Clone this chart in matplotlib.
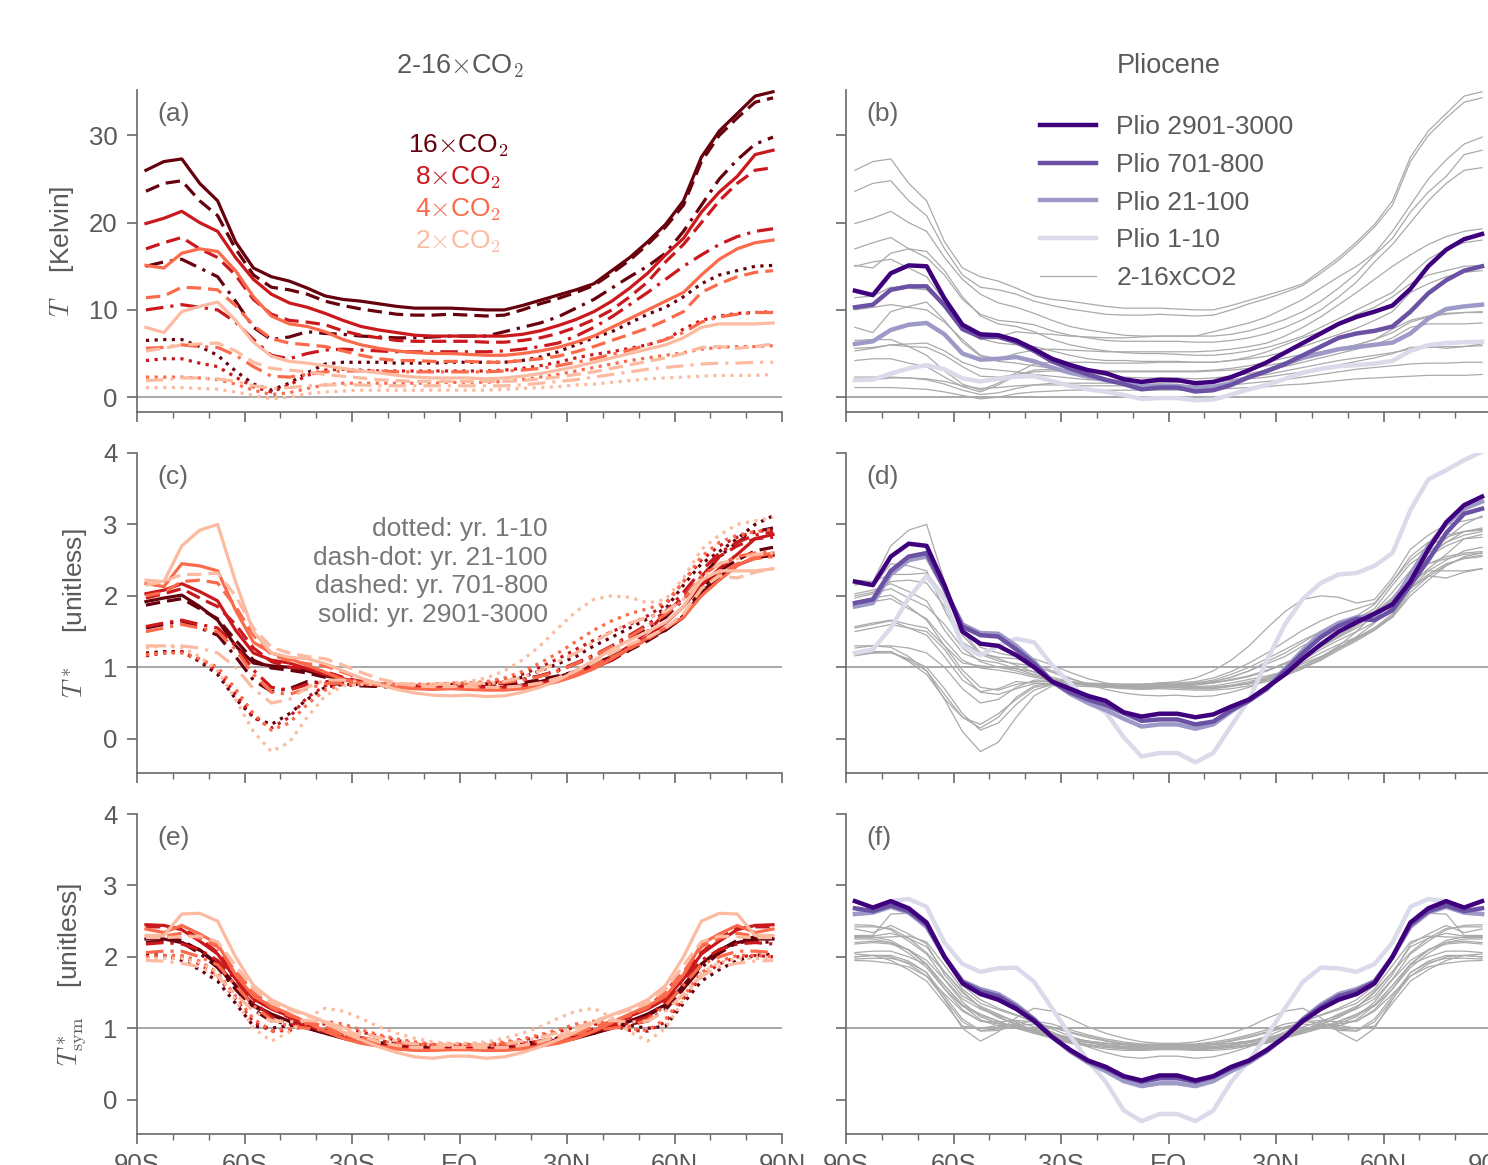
import matplotlib
matplotlib.use('Agg')
import matplotlib.pyplot as plt
from matplotlib.lines import Line2D

plt.rcParams['font.family'] = ['Liberation Sans', 'DejaVu Sans']
plt.rcParams['mathtext.fontset'] = 'cm'

# latitude grid (deg)
lat = [-87.5, -82.5, -77.5, -72.5, -67.5, -62.5, -57.5, -52.5, -47.5, -42.5, -37.5, -32.5,
       -27.5, -22.5, -17.5, -12.5, -7.5, -2.5, 2.5, 7.5, 12.5, 17.5, 22.5, 27.5,
       32.5, 37.5, 42.5, 47.5, 52.5, 57.5, 62.5, 67.5, 72.5, 77.5, 82.5, 87.5]

# ---- panel (a): warming T [K] for the CO2 runs
t16_solid = [26.0, 27.0, 27.3, 24.5, 22.5, 17.8, 14.8, 13.8, 13.3, 12.5, 11.6, 11.2, 11.0, 10.7, 10.4, 10.2, 10.2, 10.2, 10.1, 10.0, 10.0, 10.5, 11.1, 11.7, 12.3, 13.0, 14.5, 16.0, 17.8, 19.8, 22.5, 27.5, 30.5, 32.5, 34.5, 35.0]
t16_dashed = [23.6, 24.5, 24.8, 22.5, 20.8, 17.0, 14.0, 12.6, 12.3, 11.8, 11.0, 10.5, 10.1, 9.8, 9.5, 9.4, 9.4, 9.5, 9.4, 9.3, 9.4, 10.0, 10.7, 11.3, 12.0, 12.8, 14.2, 15.7, 17.5, 19.5, 22.0, 27.0, 30.0, 32.0, 33.8, 34.3]
t16_dashdot = [15.0, 15.5, 15.8, 14.8, 13.8, 11.0, 8.0, 6.6, 6.9, 7.5, 7.3, 7.2, 7.0, 6.9, 6.8, 6.8, 6.9, 7.0, 7.0, 7.0, 7.5, 8.0, 8.5, 9.2, 10.2, 11.2, 12.5, 13.8, 15.0, 16.5, 19.0, 22.0, 25.0, 27.2, 29.0, 29.8]
t16_dotted = [6.5, 6.6, 6.6, 5.8, 4.8, 3.0, 1.5, 0.8, 1.6, 2.8, 3.8, 4.0, 4.0, 4.0, 3.9, 3.9, 3.9, 4.0, 4.0, 4.0, 4.0, 4.2, 4.6, 5.2, 6.0, 6.8, 7.5, 8.5, 9.5, 10.3, 11.5, 13.0, 14.0, 14.5, 15.0, 15.1]
t8_solid = [19.9, 20.5, 21.3, 20.0, 19.0, 16.0, 13.5, 11.8, 10.8, 10.3, 9.6, 8.8, 8.1, 7.7, 7.4, 7.1, 7.0, 7.0, 7.0, 7.0, 7.0, 7.2, 7.6, 8.2, 8.9, 9.8, 11.0, 12.5, 14.2, 16.3, 18.2, 21.2, 23.5, 25.3, 27.8, 28.3]
t8_dashed = [17.0, 17.7, 18.3, 17.0, 16.0, 14.0, 11.2, 9.5, 8.8, 8.6, 8.3, 7.6, 7.1, 6.8, 6.5, 6.4, 6.4, 6.4, 6.4, 6.3, 6.3, 6.5, 6.8, 7.3, 8.0, 8.9, 10.0, 11.5, 13.2, 15.5, 17.5, 20.0, 22.5, 24.5, 26.0, 26.3]
t8_dashdot = [10.0, 10.3, 10.6, 10.3, 10.0, 8.6, 6.6, 4.8, 4.4, 5.0, 5.4, 5.5, 5.4, 5.3, 5.2, 5.2, 5.2, 5.2, 5.2, 5.2, 5.3, 5.5, 5.8, 6.2, 7.0, 8.0, 9.2, 10.6, 12.0, 13.5, 15.0, 16.3, 17.5, 18.4, 19.0, 19.3]
t8_dotted = [4.2, 4.4, 4.4, 3.9, 3.5, 2.3, 1.2, 0.6, 1.4, 2.5, 3.1, 3.2, 3.1, 3.0, 3.0, 3.0, 3.0, 3.0, 3.0, 3.0, 3.1, 3.3, 3.6, 4.0, 4.5, 4.9, 5.2, 5.6, 6.0, 6.6, 7.8, 8.8, 9.3, 9.6, 9.7, 9.8]
t4_solid = [15.1, 14.8, 16.5, 17.0, 16.7, 14.5, 11.5, 9.3, 8.4, 8.1, 7.5, 6.6, 6.0, 5.6, 5.3, 5.1, 5.0, 5.0, 4.9, 4.8, 4.8, 5.0, 5.3, 5.7, 6.3, 7.0, 8.0, 9.0, 10.0, 11.0, 12.0, 14.0, 15.8, 17.0, 17.7, 18.0]
t4_dashed = [11.4, 11.6, 12.6, 12.5, 12.3, 10.5, 8.2, 6.7, 6.2, 6.0, 5.8, 5.3, 4.8, 4.4, 4.2, 4.2, 4.1, 4.1, 4.1, 4.0, 4.0, 4.2, 4.4, 4.7, 5.2, 5.8, 6.5, 7.2, 7.9, 8.8, 9.8, 12.0, 13.0, 13.8, 14.3, 14.5]
t4_dashdot = [5.6, 5.7, 6.0, 5.8, 5.7, 4.8, 3.5, 2.4, 2.3, 2.6, 2.9, 3.0, 3.0, 3.0, 2.9, 2.9, 2.9, 2.9, 2.9, 2.9, 3.0, 3.1, 3.3, 3.6, 4.0, 4.4, 4.9, 5.4, 6.0, 6.6, 7.4, 8.6, 9.2, 9.5, 9.7, 9.7]
t4_dotted = [2.3, 2.3, 2.3, 2.2, 2.0, 1.5, 0.8, 0.3, 0.5, 1.0, 1.4, 1.6, 1.6, 1.6, 1.6, 1.6, 1.6, 1.7, 1.7, 1.7, 1.8, 2.0, 2.3, 2.6, 3.0, 3.4, 3.8, 4.2, 4.5, 4.8, 5.1, 5.5, 5.7, 5.8, 5.8, 5.9]
t2_solid = [8.0, 7.4, 9.8, 10.4, 10.9, 8.8, 6.3, 4.7, 4.1, 3.9, 3.6, 3.3, 3.0, 2.8, 2.5, 2.3, 2.2, 2.2, 2.2, 2.1, 2.2, 2.4, 2.7, 3.1, 3.5, 4.0, 4.5, 5.0, 5.5, 6.0, 6.8, 8.0, 8.4, 8.4, 8.4, 8.5]
t2_dashed = [5.3, 5.6, 6.0, 6.1, 6.2, 5.3, 4.0, 3.3, 3.1, 2.9, 2.6, 2.4, 2.2, 2.0, 1.9, 1.8, 1.8, 1.8, 1.8, 1.8, 1.8, 1.9, 2.1, 2.3, 2.6, 2.9, 3.3, 3.7, 4.1, 4.5, 5.0, 5.7, 5.8, 5.6, 5.8, 6.1]
t2_dashdot = [1.9, 2.0, 2.2, 2.2, 2.1, 1.8, 1.3, 1.0, 1.1, 1.3, 1.4, 1.4, 1.4, 1.3, 1.3, 1.3, 1.3, 1.3, 1.3, 1.3, 1.3, 1.4, 1.6, 1.8, 2.0, 2.3, 2.6, 2.9, 3.2, 3.4, 3.6, 3.8, 3.9, 3.9, 4.0, 4.0]
t2_dotted = [1.1, 1.1, 1.1, 1.0, 0.9, 0.6, 0.2, -0.2, 0.0, 0.4, 0.6, 0.7, 0.8, 0.8, 0.8, 0.8, 0.8, 0.8, 0.8, 0.8, 0.9, 1.0, 1.1, 1.2, 1.4, 1.5, 1.7, 1.9, 2.1, 2.2, 2.3, 2.4, 2.5, 2.5, 2.5, 2.6]

# ---- panel (b): Pliocene warming T [K]
tp_3000 = [12.2, 11.7, 14.2, 15.1, 15.0, 11.3, 8.3, 7.2, 7.1, 6.5, 5.5, 4.4, 3.7, 3.1, 2.75, 2.05, 1.75, 2.0, 1.95, 1.6, 1.75, 2.3, 3.1, 4.0, 5.1, 6.2, 7.3, 8.4, 9.2, 9.8, 10.5, 12.4, 15.0, 16.9, 18.1, 18.7]
tp_800 = [10.3, 10.6, 12.3, 12.7, 12.7, 10.5, 7.8, 6.9, 6.9, 6.3, 5.3, 4.1, 3.3, 2.6, 2.0, 1.5, 0.9, 1.1, 1.1, 0.65, 0.8, 1.4, 2.3, 3.0, 3.8, 4.8, 5.8, 6.8, 7.3, 7.6, 8.1, 9.8, 11.9, 13.4, 14.5, 15.0]
tp_100 = [6.1, 6.4, 7.7, 8.3, 8.5, 7.2, 5.0, 4.3, 4.4, 4.6, 4.1, 3.4, 2.8, 2.35, 1.95, 1.6, 1.3, 1.35, 1.3, 1.05, 1.2, 1.6, 2.3, 3.0, 3.8, 4.5, 5.0, 5.5, 5.75, 6.0, 6.25, 7.3, 9.0, 10.1, 10.4, 10.6]
tp_10 = [1.95, 2.0, 2.7, 3.3, 3.67, 3.2, 2.15, 1.8, 2.1, 2.35, 2.4, 1.85, 1.3, 0.9, 0.62, 0.25, -0.2, -0.1, -0.1, -0.35, -0.28, 0.3, 0.9, 1.4, 2.1, 2.8, 3.25, 3.55, 3.67, 3.85, 4.15, 5.3, 5.96, 6.2, 6.3, 6.35]

# ---- panel (c): T* for the CO2 runs
c16_solid = [1.92, 1.97, 2.01, 1.85, 1.66, 1.3, 1.06, 1.02, 1.0, 0.95, 0.88, 0.83, 0.78, 0.75, 0.73, 0.72, 0.71, 0.72, 0.72, 0.71, 0.72, 0.75, 0.8, 0.86, 0.95, 1.05, 1.15, 1.28, 1.4, 1.52, 1.7, 2.05, 2.27, 2.43, 2.53, 2.57]
c16_dashed = [1.87, 1.92, 1.96, 1.82, 1.68, 1.38, 1.1, 0.99, 0.96, 0.92, 0.86, 0.82, 0.79, 0.76, 0.74, 0.73, 0.73, 0.74, 0.74, 0.73, 0.74, 0.78, 0.83, 0.88, 0.94, 1.0, 1.1, 1.24, 1.37, 1.52, 1.72, 2.1, 2.35, 2.5, 2.63, 2.68]
c16_dashdot = [1.55, 1.6, 1.65, 1.55, 1.45, 1.15, 0.82, 0.66, 0.7, 0.8, 0.78, 0.76, 0.74, 0.73, 0.72, 0.72, 0.73, 0.74, 0.74, 0.75, 0.78, 0.83, 0.88, 0.95, 1.05, 1.15, 1.28, 1.42, 1.55, 1.7, 1.95, 2.25, 2.55, 2.75, 2.9, 2.95]
c16_dotted = [1.2, 1.22, 1.22, 1.08, 0.9, 0.56, 0.3, 0.2, 0.35, 0.55, 0.72, 0.76, 0.76, 0.75, 0.74, 0.74, 0.74, 0.76, 0.76, 0.77, 0.8, 0.86, 0.95, 1.05, 1.15, 1.3, 1.42, 1.55, 1.68, 1.82, 2.15, 2.45, 2.62, 2.8, 3.0, 3.12]
c8_solid = [2.03, 2.08, 2.17, 2.06, 1.93, 1.52, 1.2, 1.1, 1.06, 0.98, 0.9, 0.84, 0.79, 0.75, 0.73, 0.71, 0.7, 0.71, 0.71, 0.7, 0.7, 0.73, 0.77, 0.83, 0.9, 0.99, 1.1, 1.27, 1.43, 1.62, 1.85, 2.15, 2.38, 2.58, 2.8, 2.86]
c8_dashed = [1.97, 2.03, 2.1, 1.97, 1.85, 1.6, 1.27, 1.08, 1.0, 0.98, 0.94, 0.86, 0.8, 0.77, 0.74, 0.73, 0.73, 0.73, 0.73, 0.72, 0.72, 0.74, 0.77, 0.83, 0.91, 1.01, 1.14, 1.3, 1.5, 1.76, 1.98, 2.27, 2.55, 2.7, 2.8, 2.82]
c8_dashdot = [1.57, 1.62, 1.66, 1.6, 1.55, 1.3, 0.96, 0.72, 0.68, 0.76, 0.8, 0.8, 0.78, 0.76, 0.75, 0.75, 0.75, 0.76, 0.76, 0.76, 0.78, 0.82, 0.88, 0.96, 1.06, 1.17, 1.3, 1.45, 1.6, 1.78, 2.05, 2.35, 2.6, 2.75, 2.85, 2.9]
c8_dotted = [1.16, 1.2, 1.22, 1.1, 0.95, 0.62, 0.3, 0.15, 0.3, 0.58, 0.74, 0.78, 0.78, 0.77, 0.76, 0.76, 0.76, 0.77, 0.77, 0.78, 0.82, 0.9, 1.0, 1.12, 1.25, 1.38, 1.5, 1.6, 1.72, 1.88, 2.2, 2.5, 2.7, 2.82, 2.9, 2.92]
c4_solid = [2.17, 2.13, 2.45, 2.42, 2.35, 1.8, 1.35, 1.2, 1.12, 1.03, 0.93, 0.83, 0.78, 0.75, 0.72, 0.7, 0.69, 0.7, 0.69, 0.68, 0.68, 0.7, 0.74, 0.8, 0.88, 0.98, 1.12, 1.27, 1.41, 1.55, 1.7, 2.0, 2.22, 2.42, 2.55, 2.6]
c4_dashed = [2.0, 2.05, 2.2, 2.22, 2.18, 1.85, 1.45, 1.18, 1.09, 1.05, 1.02, 0.93, 0.84, 0.77, 0.74, 0.73, 0.72, 0.72, 0.72, 0.7, 0.7, 0.74, 0.77, 0.82, 0.91, 1.02, 1.14, 1.26, 1.39, 1.55, 1.72, 2.1, 2.3, 2.45, 2.52, 2.55]
c4_dashdot = [1.5, 1.55, 1.6, 1.55, 1.5, 1.25, 0.9, 0.65, 0.62, 0.7, 0.77, 0.78, 0.78, 0.77, 0.76, 0.76, 0.76, 0.76, 0.76, 0.76, 0.79, 0.82, 0.87, 0.95, 1.05, 1.16, 1.29, 1.43, 1.58, 1.74, 1.95, 2.27, 2.45, 2.55, 2.6, 2.62]
c4_dotted = [1.18, 1.2, 1.2, 1.12, 1.0, 0.7, 0.35, 0.12, 0.22, 0.48, 0.68, 0.76, 0.76, 0.76, 0.76, 0.76, 0.76, 0.78, 0.78, 0.8, 0.85, 0.94, 1.06, 1.2, 1.36, 1.52, 1.65, 1.75, 1.82, 1.9, 2.2, 2.55, 2.75, 2.85, 2.9, 2.93]
c2_solid = [2.22, 2.2, 2.7, 2.92, 3.0, 2.2, 1.5, 1.2, 1.14, 1.12, 1.05, 0.95, 0.85, 0.76, 0.69, 0.64, 0.61, 0.6, 0.61, 0.59, 0.6, 0.65, 0.72, 0.82, 0.95, 1.1, 1.25, 1.38, 1.5, 1.63, 1.85, 2.22, 2.35, 2.35, 2.35, 2.38]
c2_dashed = [2.15, 2.2, 2.3, 2.3, 2.32, 2.0, 1.55, 1.28, 1.2, 1.15, 1.12, 1.03, 0.93, 0.84, 0.78, 0.74, 0.73, 0.73, 0.73, 0.72, 0.72, 0.74, 0.78, 0.85, 0.95, 1.07, 1.2, 1.32, 1.42, 1.55, 1.75, 2.1, 2.28, 2.25, 2.33, 2.38]
c2_dashdot = [1.3, 1.3, 1.3, 1.27, 1.2, 1.0, 0.7, 0.5, 0.55, 0.72, 0.82, 0.82, 0.8, 0.78, 0.77, 0.76, 0.76, 0.77, 0.77, 0.78, 0.8, 0.86, 0.95, 1.08, 1.2, 1.35, 1.5, 1.62, 1.7, 1.78, 1.95, 2.25, 2.45, 2.52, 2.58, 2.6]
c2_dotted = [1.27, 1.3, 1.28, 1.15, 0.95, 0.55, 0.1, -0.18, -0.05, 0.3, 0.6, 0.74, 0.76, 0.76, 0.76, 0.76, 0.76, 0.78, 0.8, 0.85, 0.95, 1.1, 1.3, 1.55, 1.78, 1.95, 2.0, 1.98, 1.9, 1.95, 2.25, 2.65, 2.85, 3.0, 3.05, 3.1]

# ---- panel (d): Pliocene T*
cp_3000 = [2.2, 2.15, 2.55, 2.73, 2.7, 2.15, 1.5, 1.33, 1.3, 1.17, 1.0, 0.8, 0.7, 0.6, 0.53, 0.37, 0.31, 0.35, 0.35, 0.3, 0.34, 0.45, 0.55, 0.72, 0.9, 1.12, 1.32, 1.5, 1.63, 1.75, 1.88, 2.2, 2.65, 3.03, 3.27, 3.39]
cp_800 = [1.9, 1.95, 2.35, 2.55, 2.6, 2.1, 1.57, 1.45, 1.43, 1.25, 1.05, 0.8, 0.65, 0.55, 0.47, 0.36, 0.25, 0.27, 0.27, 0.2, 0.24, 0.4, 0.53, 0.7, 0.95, 1.2, 1.42, 1.58, 1.68, 1.66, 1.8, 2.15, 2.5, 2.88, 3.15, 3.22]
cp_100 = [1.85, 1.9, 2.3, 2.5, 2.55, 2.1, 1.6, 1.48, 1.47, 1.3, 1.08, 0.8, 0.63, 0.5, 0.4, 0.28, 0.17, 0.2, 0.2, 0.14, 0.2, 0.38, 0.55, 0.72, 0.98, 1.24, 1.48, 1.62, 1.7, 1.72, 1.9, 2.3, 2.7, 3.0, 3.22, 3.32]
cp_10 = [1.2, 1.25, 1.55, 1.97, 2.28, 1.95, 1.3, 1.17, 1.3, 1.4, 1.35, 1.03, 0.78, 0.52, 0.37, 0.02, -0.25, -0.2, -0.2, -0.33, -0.2, 0.18, 0.55, 1.1, 1.6, 1.96, 2.18, 2.3, 2.32, 2.42, 2.6, 3.2, 3.63, 3.76, 3.9, 4.02]

# ---- panel (e): symmetrised T* for the CO2 runs
e16_solid = [2.25, 2.25, 2.2, 2.1, 1.9, 1.6, 1.33, 1.2, 1.1, 1.0, 0.93, 0.86, 0.8, 0.77, 0.74, 0.72, 0.71, 0.72, 0.72, 0.71, 0.72, 0.74, 0.77, 0.8, 0.86, 0.93, 1.0, 1.1, 1.2, 1.33, 1.6, 1.9, 2.1, 2.2, 2.25, 2.25]
e16_dashed = [2.28, 2.28, 2.23, 2.09, 1.89, 1.55, 1.31, 1.18, 1.1, 1.01, 0.93, 0.88, 0.84, 0.8, 0.76, 0.74, 0.73, 0.74, 0.74, 0.73, 0.74, 0.76, 0.8, 0.84, 0.88, 0.93, 1.01, 1.1, 1.18, 1.31, 1.55, 1.89, 2.09, 2.23, 2.28, 2.28]
e16_dashdot = [2.2, 2.22, 2.2, 2.05, 1.85, 1.55, 1.26, 1.1, 1.06, 1.03, 0.96, 0.9, 0.84, 0.8, 0.77, 0.75, 0.74, 0.74, 0.74, 0.74, 0.75, 0.77, 0.8, 0.84, 0.9, 0.96, 1.03, 1.06, 1.1, 1.26, 1.55, 1.85, 2.05, 2.2, 2.22, 2.2]
e16_dotted = [2.04, 2.02, 1.95, 1.82, 1.66, 1.35, 1.03, 1.0, 1.04, 1.04, 0.95, 0.9, 0.86, 0.82, 0.79, 0.77, 0.75, 0.76, 0.76, 0.75, 0.77, 0.79, 0.82, 0.86, 0.9, 0.95, 1.04, 1.04, 1.0, 1.03, 1.35, 1.66, 1.82, 1.95, 2.02, 2.04]
e8_solid = [2.45, 2.44, 2.38, 2.22, 2.04, 1.69, 1.41, 1.27, 1.17, 1.04, 0.95, 0.87, 0.81, 0.76, 0.73, 0.71, 0.7, 0.71, 0.71, 0.7, 0.71, 0.73, 0.76, 0.81, 0.87, 0.95, 1.04, 1.17, 1.27, 1.41, 1.69, 2.04, 2.22, 2.38, 2.44, 2.45]
e8_dashed = [2.42, 2.42, 2.4, 2.26, 2.06, 1.79, 1.52, 1.29, 1.15, 1.06, 0.98, 0.89, 0.82, 0.77, 0.74, 0.73, 0.73, 0.73, 0.73, 0.73, 0.73, 0.74, 0.77, 0.82, 0.89, 0.98, 1.06, 1.15, 1.29, 1.52, 1.79, 2.06, 2.26, 2.4, 2.42, 2.42]
e8_dashdot = [2.18, 2.2, 2.18, 2.1, 1.95, 1.68, 1.37, 1.16, 1.07, 1.03, 0.99, 0.93, 0.87, 0.82, 0.79, 0.77, 0.76, 0.76, 0.76, 0.76, 0.77, 0.79, 0.82, 0.87, 0.93, 0.99, 1.03, 1.07, 1.16, 1.37, 1.68, 1.95, 2.1, 2.18, 2.2, 2.18]
e8_dotted = [2.0, 2.02, 2.0, 1.9, 1.73, 1.41, 1.09, 0.96, 0.97, 1.04, 1.06, 1.02, 0.95, 0.89, 0.83, 0.79, 0.77, 0.77, 0.77, 0.77, 0.79, 0.83, 0.89, 0.95, 1.02, 1.06, 1.04, 0.97, 0.96, 1.09, 1.41, 1.73, 1.9, 2.0, 2.02, 2.0]
e4_solid = [2.39, 2.34, 2.44, 2.32, 2.18, 1.75, 1.45, 1.31, 1.2, 1.08, 0.96, 0.86, 0.79, 0.75, 0.71, 0.69, 0.69, 0.7, 0.7, 0.69, 0.69, 0.71, 0.75, 0.79, 0.86, 0.96, 1.08, 1.2, 1.31, 1.45, 1.75, 2.18, 2.32, 2.44, 2.34, 2.39]
e4_dashed = [2.28, 2.29, 2.33, 2.26, 2.14, 1.79, 1.5, 1.29, 1.18, 1.1, 1.02, 0.92, 0.83, 0.77, 0.74, 0.72, 0.71, 0.72, 0.72, 0.71, 0.72, 0.74, 0.77, 0.83, 0.92, 1.02, 1.1, 1.18, 1.29, 1.5, 1.79, 2.14, 2.26, 2.33, 2.29, 2.28]
e4_dashdot = [2.06, 2.08, 2.08, 2.0, 1.89, 1.6, 1.32, 1.12, 1.03, 1.0, 0.97, 0.92, 0.87, 0.82, 0.79, 0.78, 0.76, 0.76, 0.76, 0.76, 0.78, 0.79, 0.82, 0.87, 0.92, 0.97, 1.0, 1.03, 1.12, 1.32, 1.6, 1.89, 2.0, 2.08, 2.08, 2.06]
e4_dotted = [2.0, 2.02, 2.02, 1.94, 1.78, 1.45, 1.13, 0.97, 0.99, 1.07, 1.1, 1.06, 0.98, 0.91, 0.85, 0.81, 0.78, 0.78, 0.78, 0.78, 0.81, 0.85, 0.91, 0.98, 1.06, 1.1, 1.07, 0.99, 0.97, 1.13, 1.45, 1.78, 1.94, 2.02, 2.02, 2.0]
e2_solid = [2.3, 2.3, 2.6, 2.61, 2.5, 2.0, 1.6, 1.4, 1.28, 1.19, 1.08, 0.95, 0.84, 0.74, 0.66, 0.6, 0.58, 0.61, 0.61, 0.58, 0.6, 0.66, 0.74, 0.84, 0.95, 1.08, 1.19, 1.28, 1.4, 1.6, 2.0, 2.5, 2.61, 2.6, 2.3, 2.3]
e2_dashed = [2.27, 2.27, 2.28, 2.29, 2.21, 1.88, 1.55, 1.35, 1.26, 1.18, 1.1, 0.99, 0.89, 0.81, 0.76, 0.73, 0.73, 0.73, 0.73, 0.73, 0.73, 0.76, 0.81, 0.89, 0.99, 1.1, 1.18, 1.26, 1.35, 1.55, 1.88, 2.21, 2.29, 2.28, 2.27, 2.27]
e2_dashdot = [1.95, 1.94, 1.91, 1.86, 1.73, 1.48, 1.24, 1.1, 1.09, 1.11, 1.09, 1.01, 0.94, 0.87, 0.82, 0.78, 0.77, 0.77, 0.77, 0.77, 0.78, 0.82, 0.87, 0.94, 1.01, 1.09, 1.11, 1.09, 1.1, 1.24, 1.48, 1.73, 1.86, 1.91, 1.94, 1.95]
e2_dotted = [1.97, 1.98, 1.98, 1.92, 1.78, 1.4, 1.0, 0.82, 0.95, 1.15, 1.28, 1.24, 1.14, 1.02, 0.93, 0.86, 0.81, 0.79, 0.79, 0.81, 0.86, 0.93, 1.02, 1.14, 1.24, 1.28, 1.15, 0.95, 0.82, 1.0, 1.4, 1.78, 1.92, 1.98, 1.98, 1.97]

# ---- panel (f): symmetrised Pliocene T*
ep_3000 = [2.78, 2.69, 2.78, 2.68, 2.48, 2.0, 1.63, 1.48, 1.4, 1.27, 1.1, 0.88, 0.7, 0.55, 0.46, 0.33, 0.27, 0.34, 0.34, 0.27, 0.33, 0.46, 0.55, 0.7, 0.88, 1.1, 1.27, 1.4, 1.48, 1.63, 2.0, 2.48, 2.68, 2.78, 2.69, 2.78]
ep_800 = [2.68, 2.64, 2.72, 2.64, 2.45, 2.0, 1.65, 1.52, 1.45, 1.3, 1.12, 0.88, 0.69, 0.54, 0.44, 0.32, 0.25, 0.3, 0.3, 0.25, 0.32, 0.44, 0.54, 0.69, 0.88, 1.12, 1.3, 1.45, 1.52, 1.65, 2.0, 2.45, 2.64, 2.72, 2.64, 2.68]
ep_100 = [2.6, 2.62, 2.7, 2.62, 2.42, 2.0, 1.66, 1.55, 1.48, 1.33, 1.13, 0.88, 0.68, 0.52, 0.4, 0.26, 0.19, 0.23, 0.23, 0.19, 0.26, 0.4, 0.52, 0.68, 0.88, 1.13, 1.33, 1.48, 1.55, 1.66, 2.0, 2.42, 2.62, 2.7, 2.62, 2.6]
ep_10 = [2.6, 2.62, 2.78, 2.81, 2.7, 2.2, 1.9, 1.79, 1.84, 1.85, 1.65, 1.28, 0.9, 0.55, 0.25, -0.15, -0.3, -0.2, -0.2, -0.3, -0.15, 0.25, 0.55, 0.9, 1.28, 1.65, 1.85, 1.84, 1.79, 1.9, 2.2, 2.7, 2.81, 2.78, 2.62, 2.6]

co2_names = ['16', '8', '4', '2']
co2_colors = ['#67000d', '#cb181d', '#fb6a4a', '#fcbba1']
period_styles = ['-', (0, (4.5, 2.2)), (0, (5.5, 2.2, 1.0, 2.2)), (0, (1.0, 1.7))]
plio_labels = ['Plio 2901-3000', 'Plio 701-800', 'Plio 21-100', 'Plio 1-10']
plio_colors = ['#3f007d', '#6a51a3', '#9e9ac8', '#dadaeb']
xticklabels = ['90S', '60S', '30S', 'EQ', '30N', '60N', '90N']

co2_T = [[t16_solid, t16_dashed, t16_dashdot, t16_dotted],
         [t8_solid, t8_dashed, t8_dashdot, t8_dotted],
         [t4_solid, t4_dashed, t4_dashdot, t4_dotted],
         [t2_solid, t2_dashed, t2_dashdot, t2_dotted]]
co2_Tstar = [[c16_solid, c16_dashed, c16_dashdot, c16_dotted],
             [c8_solid, c8_dashed, c8_dashdot, c8_dotted],
             [c4_solid, c4_dashed, c4_dashdot, c4_dotted],
             [c2_solid, c2_dashed, c2_dashdot, c2_dotted]]
co2_Tsym = [[e16_solid, e16_dashed, e16_dashdot, e16_dotted],
            [e8_solid, e8_dashed, e8_dashdot, e8_dotted],
            [e4_solid, e4_dashed, e4_dashdot, e4_dotted],
            [e2_solid, e2_dashed, e2_dashdot, e2_dotted]]
plio_T = [tp_3000, tp_800, tp_100, tp_10]
plio_Tstar = [cp_3000, cp_800, cp_100, cp_10]
plio_Tsym = [ep_3000, ep_800, ep_100, ep_10]

W, H = 1488, 1165
fig = plt.figure(figsize=(W / 100, H / 100), dpi=100)

spine_c = '#6a6a6a'
text_c = '#5a5a5a'
fs = 19


def make_axes(x0, y0, x1, y1):
    ax = fig.add_axes([x0 / W, 1 - y1 / H, (x1 - x0) / W, (y1 - y0) / H])
    for s in ['top', 'right']:
        ax.spines[s].set_visible(False)
    for s in ['left', 'bottom']:
        ax.spines[s].set_color(spine_c)
        ax.spines[s].set_linewidth(1.2)
    ax.set_xlim(-90, 90)
    ax.set_xticks([-90, -60, -30, 0, 30, 60, 90])
    ax.set_xticks(range(-90, 91, 10), minor=True)
    ax.set_xticklabels(xticklabels)
    ax.tick_params(which='major', direction='out', length=7, width=1.2, color=spine_c,
                   labelsize=18.5, labelcolor=text_c, pad=7)
    ax.tick_params(which='minor', direction='out', length=4, width=1.0, color=spine_c)
    return ax


rows = [(90, 412), (453, 773), (814, 1134)]
cols = [(137, 782), (846, 1491)]
axes = [[make_axes(c[0], r[0], c[1], r[1]) for c in cols] for r in rows]

ylims = [(-1.7, 35.2), (-0.48, 4.0), (-0.48, 4.0)]
yticks = [[0, 10, 20, 30], [0, 1, 2, 3, 4], [0, 1, 2, 3, 4]]
hlines = [0, 1, 1]
co2_data = [co2_T, co2_Tstar, co2_Tsym]
plio_data = [plio_T, plio_Tstar, plio_Tsym]
panel_tags = [['(a)', '(b)'], ['(c)', '(d)'], ['(e)', '(f)']]

for i in range(3):
    for j in range(2):
        ax = axes[i][j]
        ax.set_ylim(*ylims[i])
        ax.set_yticks(yticks[i])
        ax.axhline(hlines[i], color='#9a9a9a', lw=1.2, zorder=0.5)
        if i < 2:
            ax.tick_params(labelbottom=False)
        if j == 1:
            ax.tick_params(labelleft=False)
        ax.text(0.031, 0.925, panel_tags[i][j], transform=ax.transAxes,
                fontsize=fs, color='#666666', ha='left', va='center')

    # left column: the CO2 runs in colour
    ax = axes[i][0]
    for k in range(4):
        for p in range(4):
            ax.plot(lat, co2_data[i][k][p], color=co2_colors[k], ls=period_styles[p],
                    lw=2.3, dash_capstyle='butt', solid_joinstyle='round')

    # right column: CO2 runs in grey, Pliocene in purples
    ax = axes[i][1]
    for k in range(4):
        for p in range(4):
            ax.plot(lat, co2_data[i][k][p], color='#aaaaaa', lw=0.9, zorder=1)
    for k in [3, 2, 1, 0]:
        ax.plot(lat, plio_data[i][k], color=plio_colors[k], lw=3.2, zorder=2)

# y labels
axes[0][0].set_ylabel(r'$T$    [Kelvin]', fontsize=fs, color=text_c)
axes[0][0].yaxis.set_label_coords(-0.094, 0.5)
axes[1][0].set_ylabel(r'$T^*$    [unitless]', fontsize=fs, color=text_c)
axes[1][0].yaxis.set_label_coords(-0.074, 0.5)
axes[2][0].set_ylabel(r'$T^*_{\rm sym}$    [unitless]', fontsize=fs, color=text_c)
axes[2][0].yaxis.set_label_coords(-0.074, 0.5)

# column titles
fig.text(459.5 / W, 1 - 66 / H, r'2-16$\times$CO$_2$', fontsize=19.5, color=text_c,
         ha='center', va='center')
fig.text(1168.5 / W, 1 - 66 / H, 'Pliocene', fontsize=19.5, color=text_c,
         ha='center', va='center')

# panel (a) colour key
key_y = [0.826, 0.727, 0.627, 0.528]
for k in range(4):
    axes[0][0].text(0.498, key_y[k], co2_names[k] + r'$\times$CO$_2$', transform=axes[0][0].transAxes,
                    fontsize=fs, color=co2_colors[k], ha='center', va='center')

# panel (c) line-style key
style_notes = ['dotted: yr. 1-10', 'dash-dot: yr. 21-100', 'dashed: yr. 701-800', 'solid: yr. 2901-3000']
note_y = [0.7625, 0.672, 0.584, 0.494]
for k in range(4):
    axes[1][0].text(0.637, note_y[k], style_notes[k], transform=axes[1][0].transAxes,
                    fontsize=fs, color='#777777', ha='right', va='center')

# panel (b) legend
handles = [Line2D([], [], color=plio_colors[k], lw=3.2) for k in range(4)]
handles.append(Line2D([], [], color='#aaaaaa', lw=0.9))
labels = plio_labels + ['2-16xCO2']
leg = axes[0][1].legend(handles, labels, loc='upper left', bbox_to_anchor=(0.301, 0.922),
                        frameon=False, fontsize=fs, handlelength=2.12, handletextpad=0.76,
                        labelspacing=0.52, borderpad=0, borderaxespad=0)
for t in leg.get_texts():
    t.set_color(text_c)

fig.savefig('out.png', dpi=100)
